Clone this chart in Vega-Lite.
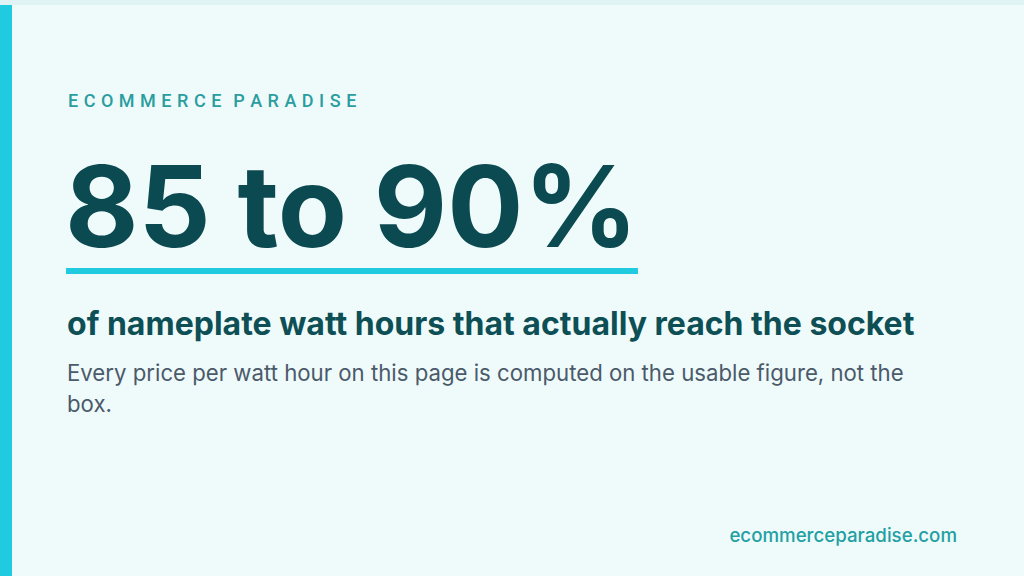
{
  "$schema": "https://vega.github.io/schema/vega-lite/v6.json",
  "width": 1024,
  "height": 576,
  "autosize": {"type": "fit", "contains": "padding"},
  "padding": 0,
  "background": "#effbfb",
  "view": {"stroke": null},
  "data": {
    "values": [
      {"role": "kicker", "text": "E\u2009\u200aC\u2009\u200aO\u2009\u200aM\u2009\u200aM\u2009\u200aE\u2009\u200aR\u2009\u200aC\u2009\u200aE\u2009\u2009 P\u2009\u200aA\u2009\u200aR\u2009\u200aA\u2009\u200aD\u2009\u200aI\u2009\u200aS\u2009\u200aE"},
      {"role": "stat", "text": "85 to 90%"},
      {"role": "headline", "text": "of nameplate watt hours that actually reach the socket"},
      {"role": "body", "text": "Every price per watt hour on this page is computed on the usable figure, not the\nbox."},
      {"role": "source", "text": "ecommerceparadise.com"}
    ]
  },
  "layer": [
    {
      "mark": {"type": "rect", "x": 0, "x2": 1024, "y": 0, "y2": 5, "color": "#e0f4f6"},
      "encoding": {}
    },
    {
      "mark": {"type": "rect", "x": 0, "x2": 12, "y": 5, "y2": 576, "color": "#20cadf"},
      "encoding": {}
    },
    {
      "mark": {"type": "rect", "x": 66, "x2": 638, "y": 268, "y2": 274, "color": "#20cadf"},
      "encoding": {}
    },
    {
      "transform": [{"filter": "datum.role == 'kicker'"}],
      "mark": {"type": "text", "x": 68, "y": 107, "align": "left", "baseline": "alphabetic", "font": "Roboto", "fontSize": 18, "fontWeight": 500, "color": "#2a9d9f"},
      "encoding": {"text": {"field": "text"}}
    },
    {
      "transform": [{"filter": "datum.role == 'stat'"}],
      "mark": {"type": "text", "x": 65, "y": 247, "align": "left", "baseline": "alphabetic", "font": "Inter", "fontSize": 113, "fontWeight": "bold", "color": "#0b4a50"},
      "encoding": {"text": {"field": "text"}}
    },
    {
      "transform": [{"filter": "datum.role == 'headline'"}],
      "mark": {"type": "text", "x": 67, "y": 335, "align": "left", "baseline": "alphabetic", "font": "Inter", "fontSize": 32, "fontWeight": 700, "color": "#0d4f55"},
      "encoding": {"text": {"field": "text"}}
    },
    {
      "transform": [{"filter": "datum.role == 'body'"}],
      "mark": {"type": "text", "x": 67, "y": 381, "align": "left", "baseline": "alphabetic", "font": "Inter", "fontSize": 22.2, "lineBreak": "\n", "lineHeight": 31, "color": "#4b5a6a"},
      "encoding": {"text": {"field": "text"}}
    },
    {
      "transform": [{"filter": "datum.role == 'source'"}],
      "mark": {"type": "text", "x": 957, "y": 542, "align": "right", "baseline": "alphabetic", "font": "Inter", "fontSize": 18.7, "fontWeight": 500, "color": "#22a0a3"},
      "encoding": {"text": {"field": "text"}}
    }
  ]
}
